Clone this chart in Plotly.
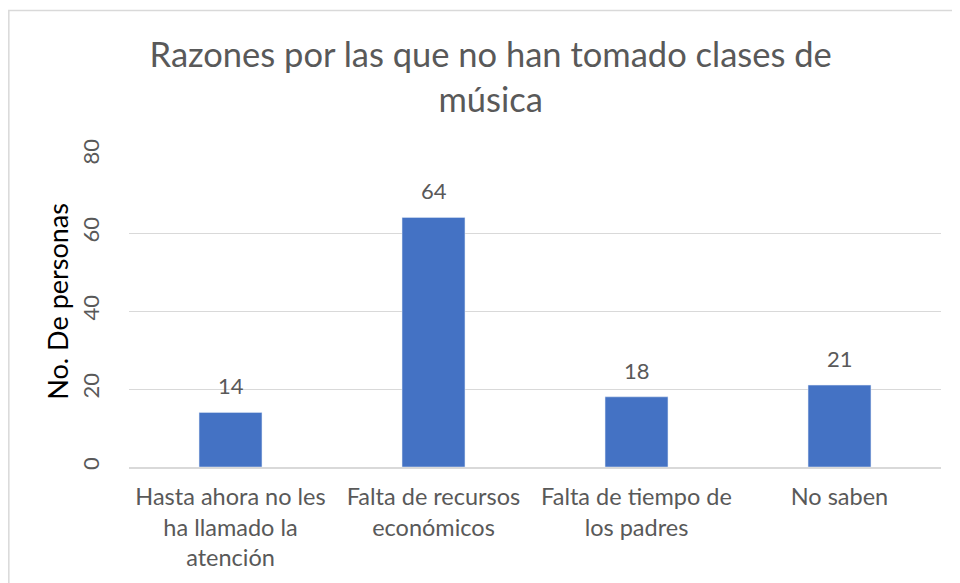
import plotly.graph_objects as go

# Datos
categorias = ["Hasta ahora no les<br>ha llamado la<br>atención",
              "Falta de recursos<br>económicos",
              "Falta de tiempo de<br>los padres",
              "No saben"]
personas = [14, 64, 18, 21]
y_ticks = [0, 20, 40, 60, 80]

gris = "#595959"
fuente = "Lato"

fig = go.Figure()
fig.add_trace(go.Bar(x=categorias, y=personas, marker_color="#4472C4"))

# etiquetas de datos sobre las barras
for c, v in zip(categorias, personas):
    fig.add_annotation(x=c, y=v, text=str(v), showarrow=False,
                       yanchor="bottom", yshift=11,
                       font=dict(size=22, color=gris, family=fuente))

# titulo del eje y
fig.add_annotation(text="No. De personas", xref="paper", yref="paper",
                   x=-0.0874, y=0.53, xanchor="center", yanchor="middle",
                   textangle=-90, showarrow=False,
                   font=dict(size=27, color="black", family=fuente))

fig.update_layout(
    title=dict(text="Razones por las que no han tomado clases de<br>música",
               x=0.507, xanchor="center", y=0.897, yanchor="top",
               font=dict(size=34.5, color=gris, family=fuente)),
    width=952, height=575,
    margin=dict(l=121, r=19, t=147, b=116),
    paper_bgcolor="white", plot_bgcolor="white",
    bargap=0.69, showlegend=False,
    font=dict(family=fuente, color=gris),
    shapes=[dict(type="rect", xref="paper", yref="paper",
                 x0=-0.148, x1=1.1, y0=-0.5, y1=1.463,
                 line=dict(color="#d9d9d9", width=1.5), layer="below")],
)

fig.update_yaxes(range=[0, 80], tickvals=y_ticks, tickangle=-90,
                 showgrid=True, gridcolor="#d9d9d9", gridwidth=1.3,
                 zeroline=False, showline=False, automargin=False,
                 tickfont=dict(size=22, color=gris, family=fuente),
                 ticklabelstandoff=25)
fig.update_xaxes(showline=True, linecolor="#d9d9d9", linewidth=2,
                 automargin=False,
                 tickfont=dict(size=23.5, color=gris, family=fuente),
                 ticks="", ticklabelstandoff=8)

fig.write_html("out.html")
